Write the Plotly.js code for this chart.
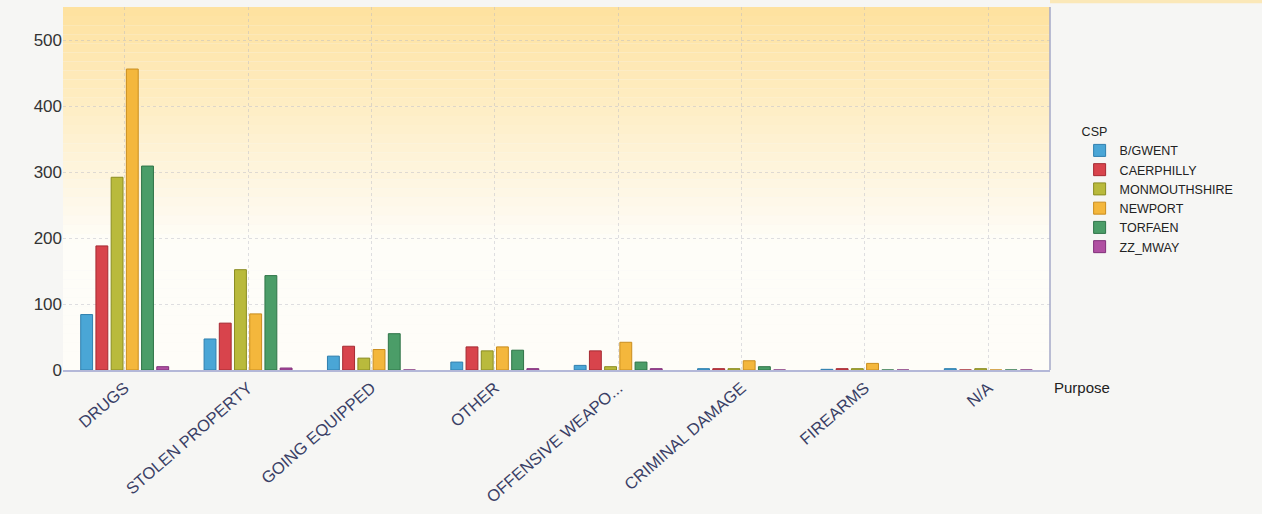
<!DOCTYPE html>
<html><head><meta charset="utf-8">
<script src="https://cdn.plot.ly/plotly-3.0.1.min.js"></script>
<style>html,body{margin:0;padding:0;background:#f6f6f4;}#chart{width:1262px;height:514px;}</style>
</head><body><div id="chart"></div>
<script>
const categories = ["DRUGS","STOLEN PROPERTY","GOING EQUIPPED","OTHER","OFFENSIVE WEAPO...","CRIMINAL DAMAGE","FIREARMS","N/A"];
const seriesNames = ["B/GWENT","CAERPHILLY","MONMOUTHSHIRE","NEWPORT","TORFAEN","ZZ_MWAY"];
const bgwent        = [84, 47, 21, 12, 7, 2, 1, 2];
const caerphilly    = [188, 71, 36, 35, 29, 2, 2, 0];
const monmouthshire = [292, 152, 18, 29, 5, 2, 2, 2];
const newport       = [456, 85, 31, 35, 42, 14, 10, 0];
const torfaen       = [309, 143, 55, 30, 12, 5, 0, 0];
const zzMway        = [5, 3, 0, 2, 2, 0, 0, 0];
const seriesValues = [bgwent, caerphilly, monmouthshire, newport, torfaen, zzMway];
const colors = ["#4aa6d6","#d8444c","#b9ba3c","#f4b73c","#4b9d68","#b050a2"];
const lineColors = ["#2f7fae","#a52a32","#8a8c22","#c98d1e","#2f7448","#80307a"];

const traces = seriesNames.map((n,i)=>({
  type:"bar", name:n, x:categories, y:seriesValues[i],
  marker:{color:colors[i], line:{color:lineColors[i], width:1}}
}));

// vertical gradient background behind plot area (orange top -> white middle)
const shapes = [];
const steps = 40;
for (let k=0;k<steps;k++){
  const t = k/(steps-1);
  const f = Math.max(0, 1 - t/0.65);
  const g = Math.round(253 - (253-226)*f);
  const b = Math.round(248 - (248-160)*f);
  shapes.push({type:"rect", xref:"paper", yref:"paper", x0:0, x1:1,
    y0:1-(k+1)/steps, y1:1-k/steps, line:{width:0},
    fillcolor:`rgb(254,${g},${b})`, layer:"below"});
}
shapes.push({type:"line", xref:"paper", yref:"paper", x0:1, x1:1, y0:0, y1:1,
  line:{color:"#a4a8c8", width:1.5}});
shapes.push({type:"rect", xref:"paper", yref:"paper", x0:1.0, x1:1.22, y0:1.01, y1:1.02,
  line:{width:0}, fillcolor:"#fbe8b8", layer:"below"});

const layout = {
  width:1262, height:514,
  margin:{l:63, r:212, t:7, b:144},
  paper_bgcolor:"#f6f6f4",
  plot_bgcolor:"rgba(0,0,0,0)",
  barmode:"group", bargap:0.26, bargroupgap:0.22,
  font:{family:"Liberation Sans, Arial, sans-serif", color:"#333"},
  xaxis:{
    tickangle:-41, tickfont:{size:16.5, color:"#3a3f66"},
    showgrid:true, gridcolor:"rgba(185,185,195,0.45)", griddash:"dot",
    showline:true, linecolor:"#b4b8d8", linewidth:2, ticks:""
  },
  yaxis:{
    range:[0,550], tickvals:[0,100,200,300,400,500],
    tickfont:{size:17, color:"#333"},
    showgrid:true, gridcolor:"rgba(185,185,195,0.45)", griddash:"dot",
    zeroline:false, ticks:"", ticklen:0
  },
  showlegend:true,
  legend:{
    x:1.03, y:0.69, xanchor:"left", yanchor:"top",
    title:{text:"CSP", font:{size:12.5, color:"#222"}},
    font:{size:12.5, color:"#222"}, tracegroupgap:0, itemwidth:30,
    bgcolor:"rgba(0,0,0,0)"
  },
  annotations:[{
    text:"Purpose", xref:"paper", yref:"paper", x:1.002, y:-0.02,
    xanchor:"left", yanchor:"top", showarrow:false,
    font:{size:15, color:"#222"}
  }],
  shapes:shapes
};
Plotly.newPlot("chart", traces, layout, {displayModeBar:false, staticPlot:true});
</script>
</body></html>
